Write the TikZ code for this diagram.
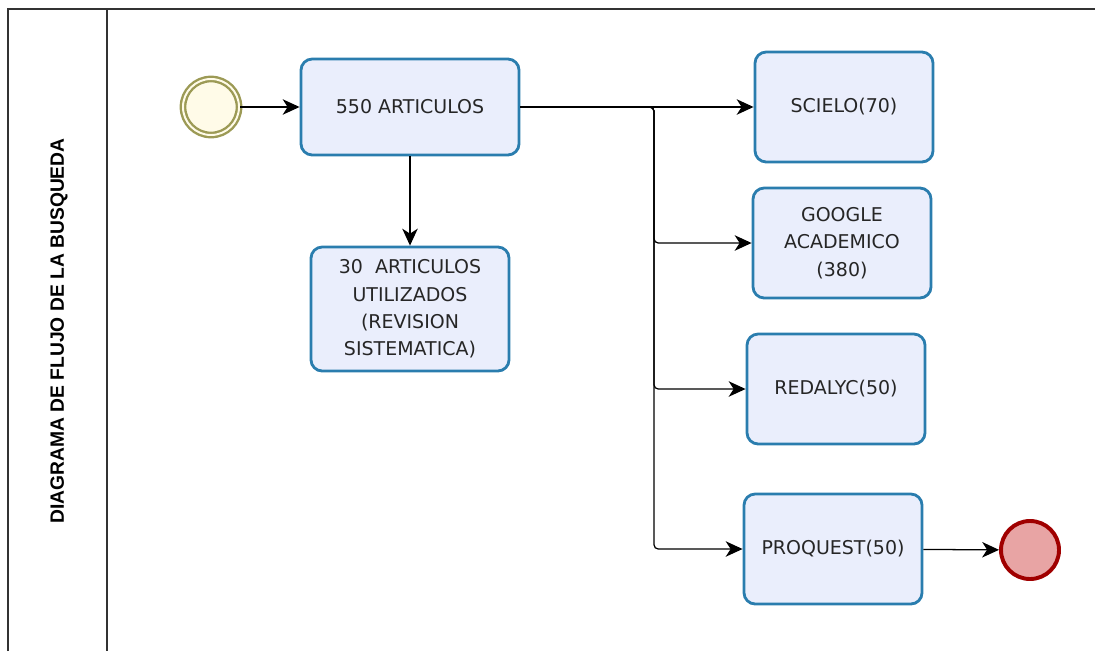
\documentclass[tikz,border=0pt]{standalone}
\usepackage{fontspec}
\setmainfont{DejaVu Sans}
\newfontfamily\titlefont{Liberation Sans}
\usetikzlibrary{arrows.meta}

\definecolor{boxfill}{HTML}{EAEEFC}
\definecolor{boxline}{HTML}{2A7DAE}
\definecolor{startline}{HTML}{9C9A55}
\definecolor{startfill}{HTML}{FFFBE8}
\definecolor{endline}{HTML}{A00000}
\definecolor{endfill}{HTML}{E8A4A4}
\definecolor{frameline}{HTML}{333333}

\begin{document}
\begin{tikzpicture}[x=0.025cm,y=-0.025cm,
  task/.style={draw=boxline,fill=boxfill,line width=2pt,rounded corners=8pt,
    minimum width=4.45cm,minimum height=2.75cm,align=center,text=black!85,
    font=\fontsize{13.5}{19.5}\selectfont},
  flow/.style={line width=0.9pt,-{Stealth[length=12pt,width=11pt,inset=3.5pt]}}]
\useasboundingbox (0,0) rectangle (1095,651);
% pool frame
\draw[frameline,line width=1.4pt] (8,651) -- (8,9) -- (1095,9);
\draw[frameline,line width=1.4pt] (107,9) -- (107,651);
\node[rotate=90,font=\titlefont\bfseries\fontsize{13.7}{16}\selectfont] (title) at (59,331) {DIAGRAMA DE FLUJO DE LA BUSQUEDA};
% events
\node[circle,draw=startline,double=startfill,double distance=1.4pt,line width=1.7pt,
  fill=startfill,minimum size=1.4cm] (start) at (211,107) {};
\node[circle,draw=endline,fill=endfill,line width=2.8pt,minimum size=1.45cm] (fin) at (1030,550) {};
% tasks
\node[task,minimum width=5.45cm,minimum height=2.4cm] (total) at (410,107) {550 ARTICULOS};
\node[task,minimum width=4.95cm,minimum height=3.1cm] (used) at (410,309) {30\ \ ARTICULOS\\UTILIZADOS\\(REVISION\\SISTEMATICA)};
\node[task] (scielo) at (844,107) {SCIELO(70)};
\node[task] (google) at (842,243) {GOOGLE\\ACADEMICO\\(380)};
\node[task] (redalyc) at (836,389) {REDALYC(50)};
\node[task] (proquest) at (833,549) {PROQUEST(50)};
% connectors
\coordinate (bus) at (654,107);
\draw[flow] (start) -- (total);
\draw[flow] (total.south) -- (used.north);
\draw[flow] (total.east) -- (scielo.west);
\draw[flow,rounded corners=3pt] (total.east) -- (bus) |- (google.west);
\draw[flow,rounded corners=3pt] (total.east) -- (bus) |- (redalyc.west);
\draw[flow,rounded corners=3pt] (total.east) -- (bus) |- (proquest.west);
\draw[flow] (proquest) -- (fin);
\end{tikzpicture}
\end{document}
